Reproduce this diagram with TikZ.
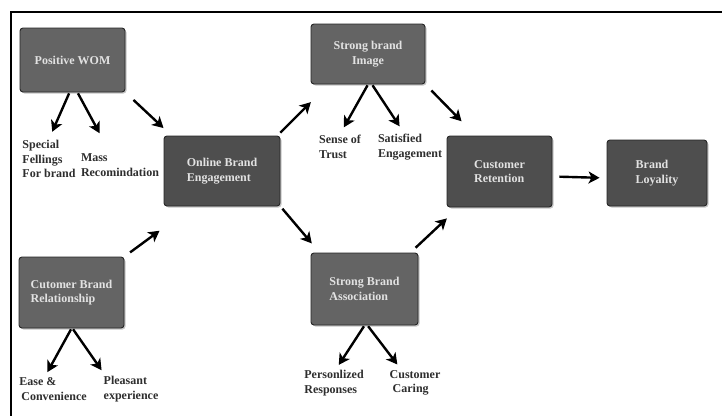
\documentclass[tikz,border=0pt]{standalone}
\usepackage{fontspec}
\setmainfont{Liberation Serif}
\usetikzlibrary{arrows.meta,shadows}
\definecolor{boxA}{HTML}{646464}
\definecolor{boxB}{HTML}{4E4E4E}
\definecolor{boxtext}{HTML}{E2E2E2}
\definecolor{labtext}{HTML}{2E2E2E}
\begin{document}
\begin{tikzpicture}[x=1pt,y=-1pt,
 box/.style={rounded corners=3pt, draw=black!85, line width=0.9pt, text=boxtext,
   font=\bfseries\fontsize{12}{14.5}\selectfont, align=left, inner sep=0pt,
   drop shadow={shadow xshift=1.5pt,shadow yshift=-1.5pt,opacity=0.45}},
 outerbox/.style={box, fill=boxA},
 innerbox/.style={box, fill=boxB},
 lab/.style={text=labtext, font=\bfseries\fontsize{12}{14.5}\selectfont, align=left, inner sep=1pt},
 arr/.style={line width=2.4pt, -{Stealth[length=11pt,width=12pt,inset=3pt]}}
]
\useasboundingbox (0,0) rectangle (722,415);
\fill[white] (0,0) rectangle (722,415);
\draw[line width=2pt] (11,416) -- (11,12) -- (723,12);

% boxes
\node[outerbox, minimum width=105pt, minimum height=64pt] (wom) at (72.5,60) {Positive WOM};
\node[innerbox, minimum width=116pt, minimum height=70pt] (online) at (222,171) {Online Brand\\Engagement};
\node[outerbox, minimum width=114pt, minimum height=60pt, align=center] (image) at (368,54) {Strong brand\\Image};
\node[innerbox, minimum width=105pt, minimum height=71pt] (ret) at (499.5,171.5) {Customer\\Retention};
\node[innerbox, minimum width=100pt, minimum height=66pt] (loy) at (657,173) {Brand\\Loyality};
\node[outerbox, minimum width=105pt, minimum height=71pt] (rel) at (71.5,292.5) {Cutomer Brand\\Relationship};
\node[outerbox, minimum width=107pt, minimum height=72pt] (assoc) at (364.5,289) {Strong Brand\\Association};

% labels
\node[lab] (spec) at (49,159) {Special\\Fellings\\For brand};
\node[lab] (mass) at (120,165) {Mass\\Recomindation};
\node[lab] (sense) at (340,147) {Sense of\\Trust};
\node[lab] (satis) at (410,147) {Satisfied\\Engagement};
\node[lab] (ease) at (53,389) {Ease \&\\\hspace*{2pt}Convenience};
\node[lab] (pleas) at (131,389) {Pleasant\\experience};
\node[lab] (pers) at (334,383) {Personlized\\Responses};
\node[lab] (care) at (415,383) {Customer\\\hspace*{3pt}Caring};

% arrows
\draw[arr, shorten <=1pt, shorten >=8pt] ([xshift=-3pt]wom.south) -- (spec.north);
\draw[arr, shorten <=1pt, shorten >=22pt] ([xshift=5pt]wom.south) -- ([xshift=-10pt]mass.north);
\draw[arr, shorten <=11pt, shorten >=11pt] (wom.south east) -- ([xshift=8pt]online.north west);
\draw[arr, shorten <=4pt, shorten >=25pt] ([xshift=-3pt]online.north east) -- ([xshift=18pt]image.south west);
\draw[arr, shorten <=1pt, shorten >=8pt] (image.south) -- (sense.north);
\draw[arr, shorten <=1pt, shorten >=8pt] ([xshift=4pt]image.south) -- ([xshift=-6pt]satis.north);
\draw[arr, shorten <=8.5pt, shorten >=20pt] (image.south east) -- ([xshift=29pt]ret.north west);
\draw[arr, shorten <=3pt, shorten >=12pt] (online.south east) -- ([xshift=9pt]assoc.north west);
\draw[arr, shorten <=7pt, shorten >=16pt] ([xshift=-8pt]assoc.north east) -- ([xshift=12pt]ret.south west);
\draw[arr, shorten <=7pt, shorten >=7pt] ([yshift=-5pt]ret.east) -- ([yshift=-5pt]loy.west);
\draw[arr, shorten <=7pt, shorten >=41pt] (rel.north east) -- ([xshift=29pt]online.south west);
\draw[arr, shorten <=1pt, shorten >=5pt] (rel.south) -- ([xshift=-8pt]ease.north);
\draw[arr, shorten <=1pt, shorten >=6pt] ([xshift=1pt]rel.south) -- ([xshift=-26pt]pleas.north);
\draw[arr, shorten <=1pt, shorten >=5pt] (assoc.south) -- ([xshift=2pt]pers.north);
\draw[arr, shorten <=1pt, shorten >=6pt] ([xshift=3pt]assoc.south) -- ([xshift=-14pt]care.north);
\end{tikzpicture}
\end{document}
